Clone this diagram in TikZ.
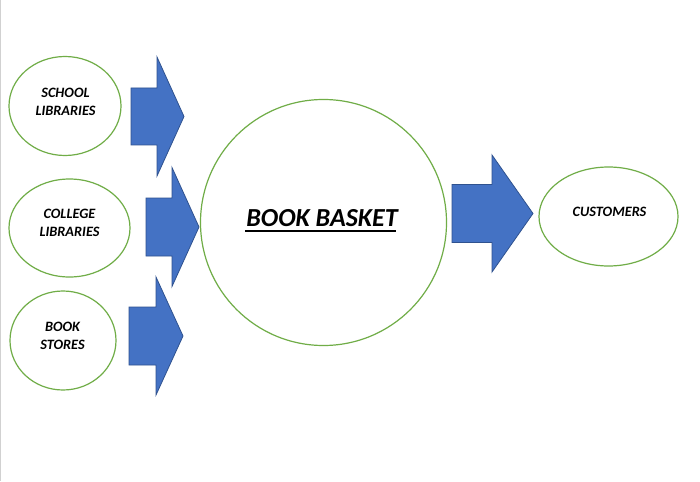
\documentclass[tikz,border=0pt]{standalone}
\usepackage{fontspec}
\setmainfont{Carlito}
\usetikzlibrary{shapes.geometric}
\definecolor{ringgreen}{HTML}{70AD47}
\definecolor{arrowblue}{HTML}{4472C4}
\definecolor{arrowedge}{HTML}{2F528F}
% block arrow: shaft left x, head start x, tip x, mid y, shaft half height, head half height
\newcommand{\blockarr}[6]{%
  \fill[arrowblue, draw=arrowedge, line width=0.8pt, line join=miter]
    (#1,#4-#5) -- (#2,#4-#5) -- (#2,#4-#6) -- (#3,#4) -- (#2,#4+#6) -- (#2,#4+#5) -- (#1,#4+#5) -- cycle;}
\begin{document}
\begin{tikzpicture}[x=1pt,y=-1pt,
  oval/.style={ellipse, draw=ringgreen, line width=1.2pt, inner sep=0pt},
  lbl/.style={inner sep=0pt, align=center, font=\fontsize{14.3}{18}\selectfont\bfseries\itshape},
  biglbl/.style={inner sep=0pt, font=\fontsize{26}{30}\selectfont\bfseries\itshape}]
\useasboundingbox (0,0) rectangle (700,481);
\fill[white] (0,0) rectangle (700,481);
\draw[black!18, line width=1.2pt] (0.6,0) -- (0.6,481);

\node[oval, minimum width=112pt, minimum height=99pt] (school) at (65,106) {};
\node[oval, minimum width=121pt, minimum height=98pt] (college) at (69.5,228) {};
\node[oval, minimum width=106pt, minimum height=99pt] (stores) at (63,340.5) {};
\node[oval, minimum width=139pt, minimum height=99pt] (customers) at (608.5,216.5) {};
\node[circle, draw=ringgreen, line width=1.2pt, minimum size=246pt, inner sep=0pt] (basket) at (323.5,222.5) {};

\node[lbl] (schooltxt) at (65.5,102) {SCHOOL\\LIBRARIES};
\node[lbl] (collegetxt) at (69.5,223) {COLLEGE\\LIBRARIES};
\node[lbl] (storestxt) at (62.5,335.5) {BOOK\\STORES};
\node[lbl] (customerstxt) at (609.5,212) {CUSTOMERS};
\node[biglbl] (baskettxt) at (322,218) {BOOK BASKET};
\draw[line width=1.6pt] ([xshift=-1pt,yshift=-4pt]baskettxt.south west) -- ([xshift=-2pt,yshift=-4pt]baskettxt.south east);

\blockarr{131}{157}{184}{116.5}{28.5}{59.5}
\blockarr{146}{172}{199}{227}{29}{59.5}
\blockarr{129}{156}{183}{336}{29}{59}
\blockarr{452}{492}{533}{213.5}{29}{58.5}
\end{tikzpicture}
\end{document}
